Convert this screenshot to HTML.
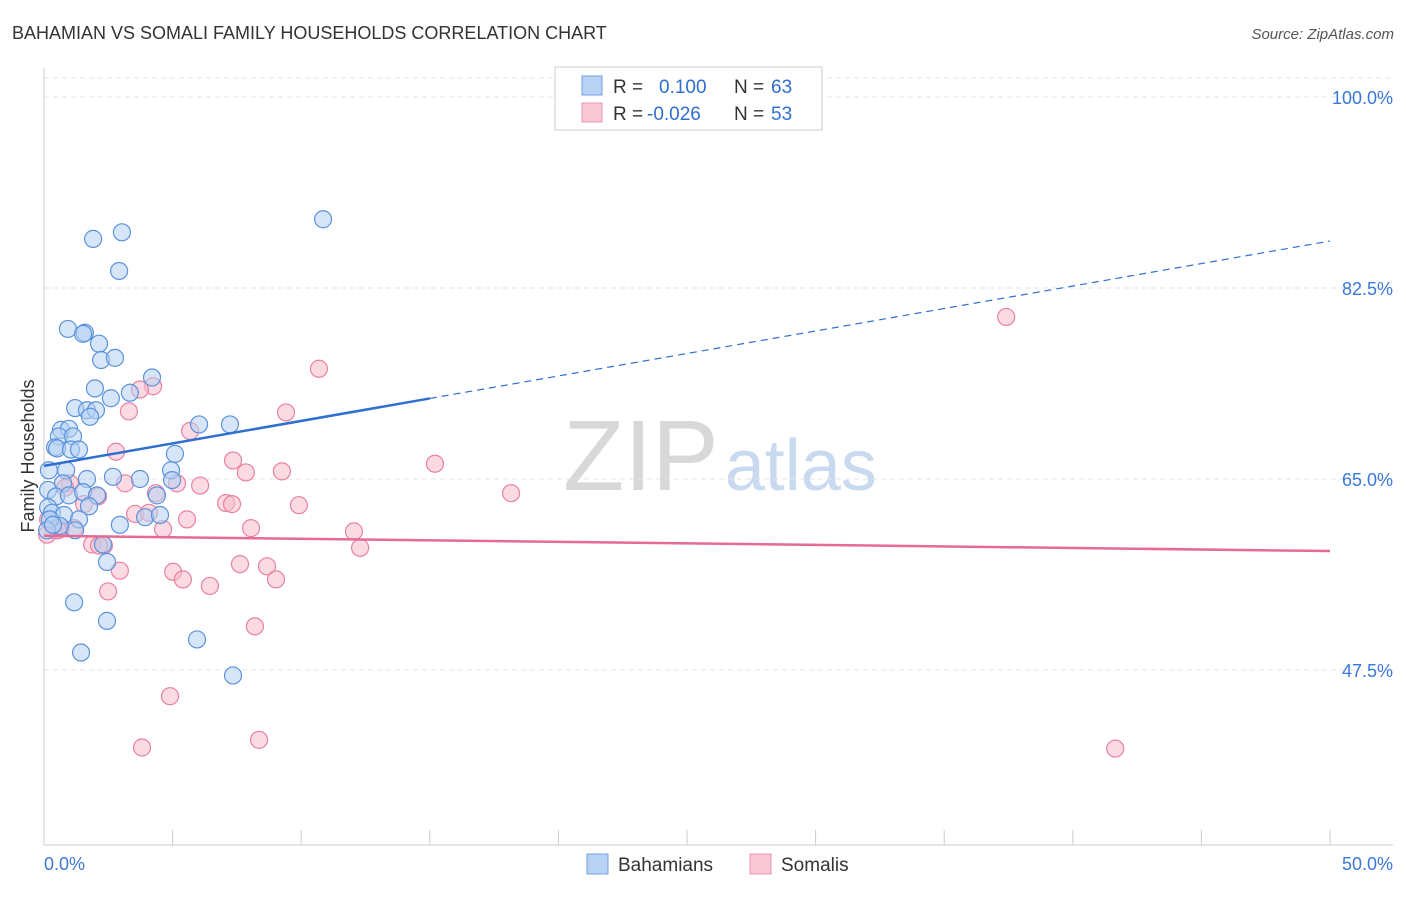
<!DOCTYPE html>
<html><head><meta charset="utf-8"><style>
body{margin:0;background:#fff;font-family:"Liberation Sans",sans-serif}
svg text{font-family:"Liberation Sans",sans-serif}
</style></head><body>
<svg id="chart" width="1406" height="892" viewBox="0 0 1406 892" xmlns="http://www.w3.org/2000/svg">
<text x="12" y="39" font-size="18" fill="#333">BAHAMIAN VS SOMALI FAMILY HOUSEHOLDS CORRELATION CHART</text>
<text x="1394" y="39" font-size="15" fill="#555" text-anchor="end" font-style="italic">Source: ZipAtlas.com</text>
<text x="720" y="490" font-size="100" text-anchor="middle" fill="#ddd" font-family="Liberation Serif"><tspan fill="#d8d8d8">ZIP</tspan><tspan font-family="Liberation Sans" font-size="72" fill="#c9daf0" dx="6">atlas</tspan></text>
<g id="grid"></g>
<g id="axes"></g>
<g id="pts"></g>
<g id="lines"></g>
<text transform="translate(34,456) rotate(-90)" font-size="18" fill="#333" text-anchor="middle">Family Households</text>
<g>
<rect x="555" y="67" width="267" height="63" fill="#fff" stroke="#ccc"/>
<rect x="582" y="76" width="20" height="19" fill="#b8d2f4" stroke="#6fa0e0"/>
<rect x="582" y="103" width="20" height="19" fill="#f9c8d6" stroke="#ec93ad"/>
<text x="613" y="93" font-size="19" fill="#333">R = <tspan fill="#2f6fd1" x="659">0.100</tspan><tspan fill="#333" x="734">N =</tspan><tspan fill="#2f6fd1" x="771">63</tspan></text>
<text x="613" y="120" font-size="19" fill="#333">R = <tspan fill="#2f6fd1" x="647">-0.026</tspan><tspan fill="#333" x="734">N =</tspan><tspan fill="#2f6fd1" x="771">53</tspan></text>
</g>
<g>
<rect x="587" y="854" width="21" height="20" fill="#b8d2f4" stroke="#6fa0e0"/>
<text x="618" y="871" font-size="19" fill="#333">Bahamians</text>
<rect x="750" y="854" width="21" height="20" fill="#f9c8d6" stroke="#ec93ad"/>
<text x="781" y="871" font-size="19" fill="#333">Somalis</text>
</g>
</svg>
<script>
const blueX=[10.85,3.03,1.91,2.92,0.93,1.59,1.52,2.14,2.22,2.76,4.2,1.98,3.34,2.6,1.21,1.67,2.02,1.79,6.03,7.23,0.66,0.97,0.58,1.13,0.43,0.51,1.05,1.36,5.09,0.86,0.19,4.94,2.68,3.73,1.67,0.74,0.16,0.47,0.97,1.52,2.06,4.39,4.98,1.75,0.16,0.31,0.78,1.36,3.93,4.51,2.95,1.21,0.62,0.23,2.29,2.45,1.17,2.45,5.95,1.44,7.35,0.12,0.35];
const blueY=[88.8,87.6,87.0,84.06,78.75,78.4,78.3,77.4,75.9,76.1,74.3,73.3,72.9,72.4,71.5,71.3,71.3,70.7,70.0,70.0,69.5,69.6,68.9,68.9,67.9,67.8,67.7,67.7,67.3,65.8,65.8,65.8,65.2,65.0,65.0,64.6,64.0,63.4,63.5,63.8,63.5,63.5,64.9,62.5,62.4,61.9,61.7,61.3,61.5,61.7,60.8,60.3,60.7,61.3,59.0,57.4,53.7,52.0,50.3,49.1,47.0,60.3,60.8];
const pinkX=[37.41,10.69,4.24,3.73,3.3,9.41,5.68,2.8,7.35,7.85,9.25,15.2,18.16,3.15,6.07,5.17,4.35,7.08,7.31,9.91,2.1,1.01,1.56,5.56,3.54,4.08,8.05,4.63,12.05,2.33,1.87,12.29,0.66,0.39,2.95,7.62,8.67,5.02,5.4,9.02,6.45,2.49,8.2,4.9,3.81,8.36,41.65,0.82,0.16,0.54,1.17,0.12,2.14];
const pinkY=[79.85,75.1,73.5,73.2,71.2,71.1,69.4,67.5,66.7,65.6,65.7,66.4,63.7,64.6,64.4,64.6,63.7,62.8,62.7,62.6,63.4,64.6,62.7,61.3,61.8,61.9,60.5,60.4,60.2,58.9,59.0,58.7,60.5,60.3,56.6,57.2,57.0,56.5,55.8,55.8,55.2,54.7,51.5,45.1,40.4,41.1,40.3,64.2,61.3,60.3,60.5,59.9,58.9];
const yTicks=[100,82.5,65,47.5];
const yTickLabels=["100.0%","82.5%","65.0%","47.5%"];
const xTickLabels=["0.0%","50.0%"];
const blueLine=[66.2,86.8]; // trend value at x=0 and x=50
const blueSolidEnd=15;
const pinkLine=[59.8,58.4];
const NS="http://www.w3.org/2000/svg";
const X0=44,X1=1330,Y100=97,PXPER=191/17.5;
const sx=v=>X0+(v/50)*(X1-X0);
const sy=v=>Y100+(100-v)*PXPER;
function mk(tag,attrs,parent){const e=document.createElementNS(NS,tag);for(const k in attrs)e.setAttribute(k,attrs[k]);parent.appendChild(e);return e;}
const grid=document.getElementById('grid'),axes=document.getElementById('axes'),pts=document.getElementById('pts'),lines=document.getElementById('lines');
yTicks.forEach((t,i)=>{
 const l=mk('line',{x1:X0,x2:1393,y1:sy(t),y2:sy(t),stroke:'#e3e3e3','stroke-dasharray':'5,4'},grid);
 
 
 const tx=mk('text',{x:1393,y:sy(t)+7,'font-size':18,fill:'#3b78d8','text-anchor':'end'},axes);
 tx.textContent=yTickLabels[i];
 
 
});
mk('line',{x1:X0,x2:1393,y1:78,y2:78,stroke:'#e3e3e3','stroke-dasharray':'5,4'},grid);
const ya=mk('line',{x1:X0,x2:X0,y1:68,y2:845,stroke:'#ccc'},axes);


const xa=mk('line',{x1:X0,x2:1393,y1:845,y2:845,stroke:'#ccc'},axes);


for(let i=0;i<=10;i++){const v=i*5;const t=mk('line',{x1:sx(v),x2:sx(v),y1:830,y2:845,stroke:'#ccc'},axes);
 
 }
[[0,'start',X0],[50,'end',1393]].forEach((d,i)=>{const t=mk('text',{x:i?1393:44,y:870,'font-size':18,fill:'#3b78d8','text-anchor':d[1]},axes);t.textContent=xTickLabels[i];
 
 });
function dots(xs,ys,fill,stroke,name){xs.forEach((x,i)=>{const c=mk('circle',{cx:sx(x),cy:sy(ys[i]),r:8.5,fill:fill,'fill-opacity':0.55,stroke:stroke,'stroke-width':1.2},pts);
 
 });}
dots(pinkX,pinkY,'#f7bccd','#e8829f','somali-point');
dots(blueX,blueY,'#b5d0f2','#5b93dc','bahamian-point');
const yAt=(ln,x)=>ln[0]+(ln[1]-ln[0])*x/50;
const b1=mk('line',{x1:sx(0),y1:sy(blueLine[0]),x2:sx(blueSolidEnd),y2:sy(yAt(blueLine,blueSolidEnd)),stroke:'#2f6fd1','stroke-width':2.5},lines);


const b2=mk('line',{x1:sx(blueSolidEnd),y1:sy(yAt(blueLine,blueSolidEnd)),x2:sx(50),y2:sy(blueLine[1]),stroke:'#2f6fd1','stroke-width':1.2,'stroke-dasharray':'7,5'},lines);


const p1=mk('line',{x1:sx(0),y1:sy(pinkLine[0]),x2:sx(50),y2:sy(pinkLine[1]),stroke:'#e66a93','stroke-width':2.5},lines);


</script>
</body></html>
